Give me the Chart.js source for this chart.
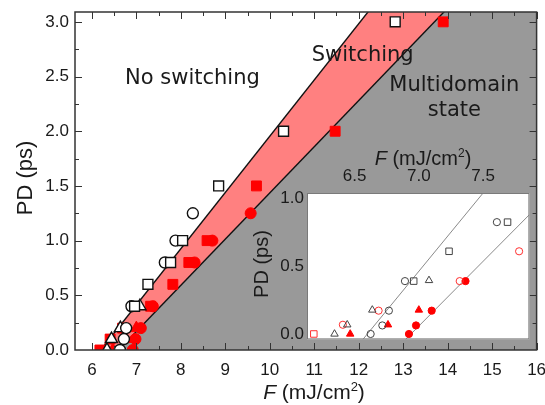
<!DOCTYPE html>
<html><head><meta charset="utf-8">
<script src="https://cdn.jsdelivr.net/npm/chart.js@4/dist/chart.umd.min.js"></script>
<style>
html,body{margin:0;padding:0;background:#fff;}
#wrap{position:relative;width:545px;height:405px;overflow:hidden;}
#main{position:absolute;left:0;top:0;}
#inset{position:absolute;left:250px;top:140px;}
</style></head>
<body><div id="wrap"><canvas id="main" width="545" height="405"></canvas><canvas id="inset" width="285" height="205"></canvas></div>
<script>
// ---------- main plot data (F in mJ/cm^2, PD in ps) ----------
const xTickValues = [6, 7, 8, 9, 10, 11, 12, 13, 14, 15, 16];
const yTickValues = [0, 0.5, 1.0, 1.5, 2.0, 2.5, 3.0];
const blackOpenSquares   = [[7.26,0.6],[6.96,0.4],[7.77,0.8],[8.04,1.0],[8.85,1.5],[10.31,2.0],[12.82,3.0]];
const blackOpenCircles   = [[6.63,0],[6.72,0.1],[6.77,0.2],[6.89,0.4],[7.64,0.8],[7.88,1.0],[8.27,1.25]];
const blackOpenTriangles = [[6.34,0],[6.44,0.1],[6.64,0.2],[7.08,0.4]];
const redSquares   = [[6.18,0],[6.41,0.1],[6.69,0.2],[7.32,0.4],[7.82,0.6],[8.18,0.8],[8.59,1.0],[9.70,1.5],[11.47,2.0],[13.90,3.0]];
const redCircles   = [[6.92,0],[6.98,0.1],[7.10,0.2],[7.37,0.4],[8.31,0.8],[8.71,1.0],[9.57,1.25]];
const redTriangles = [[6.47,0],[6.76,0.1],[7.00,0.2]];
// boundary lines (switching band)
const upperBoundary = [[6.2,0],[16,5.04]];
const lowerBoundary = [[6.6,0],[16,3.97]];
// region labels [text, F, PD]
const regionLabels = [["No switching",8.26,2.48],["Switching",12.09,2.69],["Multidomain",14.15,2.42],["state",14.15,2.19]];

// ---------- inset data ----------
const insetXTicks = [6.5, 7.0, 7.5];
const insetYTicks = [0, 0.5, 1.0];
const inGrayCircles   = [[6.625,0],[6.716,0.063],[6.767,0.172],[6.892,0.39],[7.607,0.825]];
const inGraySquares   = [[6.96,0.39],[7.235,0.61],[7.69,0.825]];
const inGrayTriangles = [[6.344,0],[6.443,0.068],[6.638,0.177],[7.079,0.395]];
const inRedOpenCircles = [[6.409,0.068],[6.687,0.172],[7.318,0.39],[7.78,0.61]];
const inRedOpenSquares = [[6.183,0]];
const inRedTriangles  = [[6.466,0],[6.76,0.068],[7.0,0.177]];
const inRedCircles    = [[6.923,0],[6.978,0.063],[7.1,0.172],[7.363,0.39]];
const inLineA = [[6.565,-0.04],[7.5,1.04]];
const inLineB = [[6.897,-0.04],[7.86,0.88]];

const FAM = '"Liberation Sans", Arial, sans-serif';
const toXY = a => a.map(([x,y]) => ({x, y}));

function markers(data, style, r, border, fillc, bw) {
  return {type:'scatter', data: toXY(data), pointStyle: style, pointRadius: r, pointHoverRadius: r,
    pointBorderColor: border, pointBackgroundColor: fillc, pointBorderWidth: bw, showLine:false, clip:0, order:0};
}
function boundary(data, fillColor, order, color, width, fill) {
  return {type:'line', data: toXY(data), borderColor: color, borderWidth: width, backgroundColor: fillColor,
    fill: fill, pointRadius:0, clip:0, order: order, tension:0};
}
function drawFTitle(ctx, cx, baseline, size) {
  const parts = [
    {t:'F', f:`italic ${size}px ${FAM}`, dy:0},
    {t:' (mJ/cm', f:`${size}px ${FAM}`, dy:0},
    {t:'2', f:`${Math.round(size*0.62)}px ${FAM}`, dy:-size*0.4},
    {t:')', f:`${size}px ${FAM}`, dy:0}];
  let total = 0;
  parts.forEach(p => { ctx.font = p.f; p.w = ctx.measureText(p.t).width; total += p.w; });
  let x = cx - total/2;
  ctx.textAlign = 'left'; ctx.textBaseline = 'alphabetic';
  parts.forEach(p => { ctx.font = p.f; ctx.fillText(p.t, x, baseline + p.dy); x += p.w; });
}
function drawVTitle(ctx, cx, cy, text, size) {
  ctx.save(); ctx.translate(cx, cy); ctx.rotate(-Math.PI/2);
  ctx.font = `${size}px ${FAM}`; ctx.textAlign='center'; ctx.textBaseline='middle';
  ctx.fillText(text, 0, 0); ctx.restore();
}
const midpoints = arr => arr.slice(1).map((v,i) => (v + arr[i]) / 2);
const noPad = s => { s.paddingLeft = 0; s.paddingRight = 0; s.paddingTop = 0; s.paddingBottom = 0; };

const mainPlugin = {
  id: 'mainDeco',
  beforeDraw(chart) {
    const c = chart.ctx; c.save(); c.fillStyle = '#fff'; c.fillRect(0,0,chart.width,chart.height); c.restore();
  },
  afterDatasetsDraw(chart) {
    const {ctx, chartArea:a, scales:{x, y}} = chart;
    ctx.save();
    // region labels
    ctx.fillStyle = '#1a1a1a'; ctx.font = '21px "DejaVu Sans", sans-serif';
    ctx.textAlign = 'center'; ctx.textBaseline = 'middle';
    regionLabels.forEach(([t,fx,py]) => ctx.fillText(t, x.getPixelForValue(fx), y.getPixelForValue(py)));
    // ticks (inward)
    ctx.strokeStyle = '#333'; ctx.lineWidth = 1; ctx.beginPath();
    const xt = (v, L) => { const p = Math.round(x.getPixelForValue(v)) + 0.5; if (p < a.left || p > a.right + 1) return;
      ctx.moveTo(p, a.bottom); ctx.lineTo(p, a.bottom - L); ctx.moveTo(p, a.top); ctx.lineTo(p, a.top + L); };
    const yt = (v, L) => { const p = Math.round(y.getPixelForValue(v)) + 0.5; if (p < a.top - 1 || p > a.bottom) return;
      ctx.moveTo(a.left, p); ctx.lineTo(a.left + L, p); ctx.moveTo(a.right, p); ctx.lineTo(a.right - L, p); };
    xTickValues.forEach(v => xt(v, 7)); midpoints(xTickValues).forEach(v => xt(v, 4));
    yTickValues.forEach(v => yt(v, 7)); midpoints(yTickValues).forEach(v => yt(v, 4));
    ctx.stroke();
    ctx.lineWidth = 1.5; ctx.strokeStyle = '#333';
    ctx.strokeRect(a.left, a.top, a.right - a.left, a.bottom - a.top);
    // axis titles
    ctx.fillStyle = '#1a1a1a';
    drawFTitle(ctx, 314, 399, 21);
    drawVTitle(ctx, 26, 178, 'PD (ps)', 22);
    ctx.restore();
  }
};

new Chart(document.getElementById('main'), {
  type: 'scatter',
  data: { datasets: [
    boundary(upperBoundary, '#ff8080', 3, '#111', 1.4, 'start'),
    boundary(lowerBoundary, '#999999', 2, '#111', 1.4, 'start'),
    markers(blackOpenSquares, 'rect', 7, '#111', '#fff', 1.4),
    markers(blackOpenCircles, 'circle', 5.5, '#111', '#fff', 1.4),
    markers(blackOpenTriangles, 'triangle', 7, '#111', '#fff', 1.4),
    markers(redSquares, 'rect', 7, '#ff0000', '#ff0000', 1),
    markers(redCircles, 'circle', 5.5, '#ff0000', '#ff0000', 1),
    markers(redTriangles, 'triangle', 7, '#ff0000', '#ff0000', 1)
  ]},
  options: {
    responsive:false, devicePixelRatio:1, animation:false, events:[],
    layout: {padding:{top:12, right:7, left:0, bottom:0}},
    plugins: {legend:{display:false}, tooltip:{enabled:false}},
    scales: {
      x: {type:'linear', min:5.62, max:16, grid:{display:false, drawTicks:false}, border:{display:false},
        ticks:{font:{family:FAM, size:17}, color:'#1a1a1a', padding:10, callback:v=>String(v), maxRotation:0},
        afterBuildTicks: s => { s.ticks = xTickValues.map(v => ({value:v})); },
        afterFit: s => { s.height = 55; noPad(s); }},
      y: {type:'linear', min:0, max:3.09, grid:{display:false, drawTicks:false}, border:{display:false},
        ticks:{font:{family:FAM, size:17}, color:'#1a1a1a', padding:6, callback:v=>v.toFixed(1)},
        afterBuildTicks: s => { s.ticks = yTickValues.map(v => ({value:v})); },
        afterFit: s => { s.width = 75; noPad(s); }}
    }
  },
  plugins: [mainPlugin]
});

const insetPlugin = {
  id: 'insetDeco',
  beforeDatasetsDraw(chart) {
    const {ctx, chartArea:a} = chart;
    ctx.save(); ctx.fillStyle = '#fff'; ctx.fillRect(a.left, a.top, a.right-a.left, a.bottom-a.top); ctx.restore();
  },
  afterDatasetsDraw(chart) {
    const {ctx, chartArea:a} = chart;
    ctx.save();
    ctx.strokeStyle = '#7a7a7a'; ctx.lineWidth = 1;
    ctx.strokeRect(a.left + 0.5, a.top + 0.5, a.right - a.left - 1, a.bottom - a.top - 1);
    ctx.fillStyle = '#1a1a1a';
    drawFTitle(ctx, 173, 25, 20);
    drawVTitle(ctx, 12, 124, 'PD (ps)', 20);
    ctx.restore();
  }
};

const G = '#444';
new Chart(document.getElementById('inset'), {
  type: 'scatter',
  data: { datasets: [
    boundary(inLineA, 'transparent', 2, '#8a8a8a', 1, false),
    boundary(inLineB, 'transparent', 2, '#8a8a8a', 1, false),
    markers(inGrayCircles, 'circle', 3.6, G, 'transparent', 1),
    markers(inGraySquares, 'rect', 4.6, G, 'transparent', 1),
    markers(inGrayTriangles, 'triangle', 4.3, G, 'transparent', 1),
    markers(inRedOpenCircles, 'circle', 3.6, '#ff3030', 'transparent', 1),
    markers(inRedOpenSquares, 'rect', 4.6, '#ff3030', 'transparent', 1),
    markers(inRedTriangles, 'triangle', 4.3, '#ff0000', '#ff0000', 1),
    markers(inRedCircles, 'circle', 3.6, '#ff0000', '#ff0000', 1)
  ]},
  options: {
    responsive:false, devicePixelRatio:1, animation:false, events:[],
    layout: {padding:{top:0, right:5, left:0, bottom:3}},
    plugins: {legend:{display:false}, tooltip:{enabled:false}},
    scales: {
      x: {type:'linear', position:'top', min:6.13, max:7.86, grid:{display:false, drawTicks:false}, border:{display:false},
        ticks:{font:{family:FAM, size:17}, color:'#1a1a1a', padding:6, callback:v=>v.toFixed(1), maxRotation:0},
        afterBuildTicks: s => { s.ticks = insetXTicks.map(v => ({value:v})); },
        afterFit: s => { s.height = 53; noPad(s); }},
      y: {type:'linear', min:-0.04, max:1.04, grid:{display:false, drawTicks:false}, border:{display:false},
        ticks:{font:{family:FAM, size:17}, color:'#1a1a1a', padding:3, callback:v=>v.toFixed(1)},
        afterBuildTicks: s => { s.ticks = insetYTicks.map(v => ({value:v})); },
        afterFit: s => { s.width = 57; noPad(s); }}
    }
  },
  plugins: [insetPlugin]
});
</script>
</body></html>
